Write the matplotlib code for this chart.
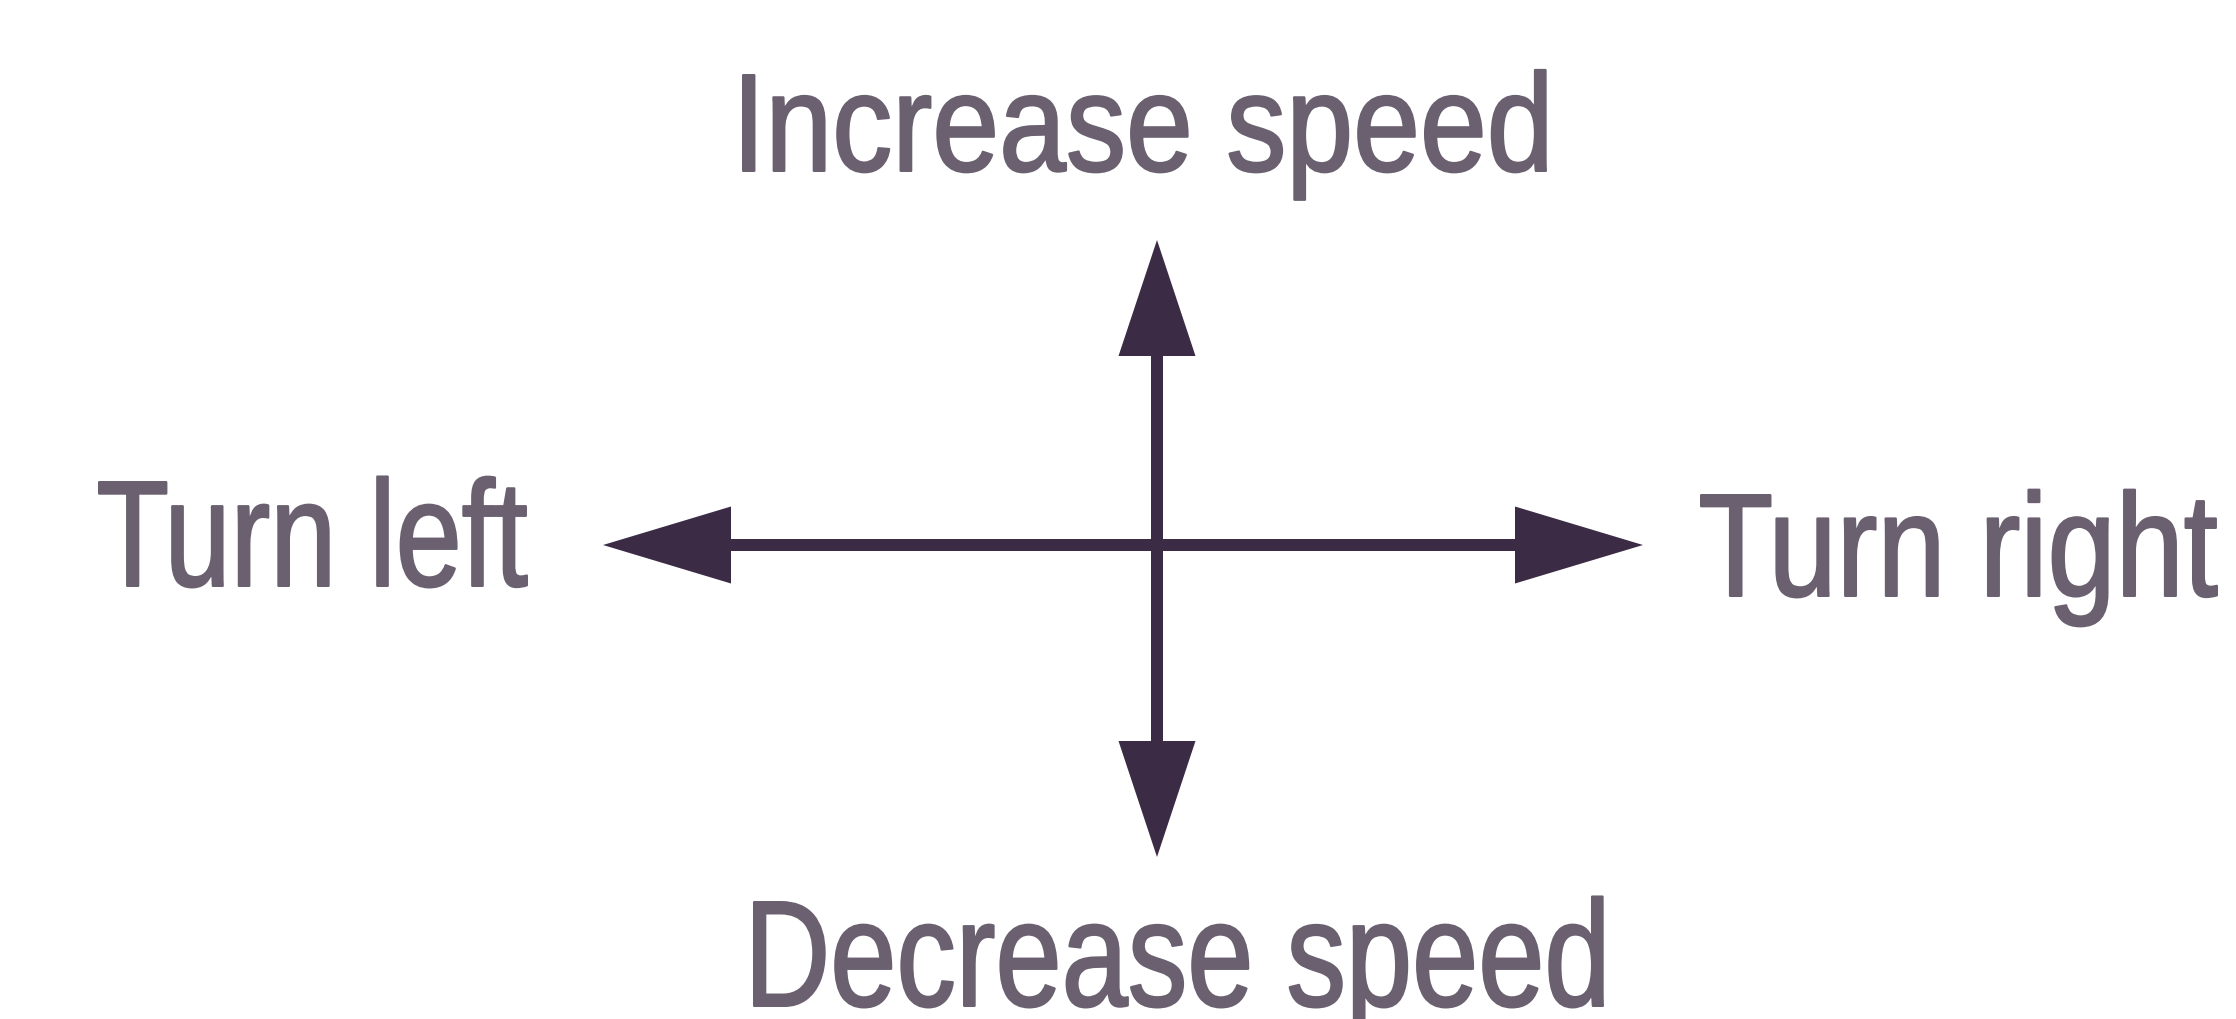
import matplotlib
matplotlib.use("Agg")
import matplotlib.pyplot as plt
from matplotlib.font_manager import FontProperties
from matplotlib.patheffects import AbstractPathEffect
from matplotlib.textpath import TextPath
from matplotlib.transforms import Affine2D

# концы стрелок (в пикселях картинки) относительно центра креста
directions = ["up", "down", "left", "right"]
tip_x = [1157, 1157, 603, 1643]
tip_y = [240, 857, 545, 545]
center = (1157, 545)

# подписи: левый и правый край букв, базовая линия, высота заглавной
labels = ["Increase speed", "Decrease speed", "Turn left", "Turn right"]
left_x = [742, 753, 98, 1700]
right_x = [1547, 1604, 528, 2218]
baseline_y = [172, 1007, 587, 597]
cap_h = [98, 106, 106, 103]

W, H = 2236, 1019
DPI = 100
PX = DPI / 72.0
STROKE = 1.6  # pt, утолщение букв


class Stretch(AbstractPathEffect):
    """Растягивает глифы по вертикали от базовой линии и слегка утолщает."""

    def __init__(self, sy, lw):
        super().__init__()
        self.sy = sy
        self.lw = lw

    def draw_path(self, renderer, gc, tpath, affine, rgbFace=None):
        tr = Affine2D().scale(1, self.sy) + affine
        gc0 = renderer.new_gc()
        gc0.copy_properties(gc)
        gc0.set_linewidth(self.lw)
        gc0.set_foreground(rgbFace)
        gc0.set_joinstyle("round")
        renderer.draw_path(gc0, tpath, tr, rgbFace)
        gc0.restore()


fig = plt.figure(figsize=(W / DPI, H / DPI), dpi=DPI)
ax = fig.add_axes([0, 0, 1, 1])
ax.set_xlim(0, W)
ax.set_ylim(H, 0)
ax.axis("off")

arrow_color = "#3b2b45"
text_color = "#6a6070"
fp = FontProperties(family=["Liberation Sans", "DejaVu Sans"])

# четыре стрелки из центра
for d, tx, ty in zip(directions, tip_x, tip_y):
    dx = tx - center[0]
    dy = ty - center[1]
    hl = 116 if d in ("up", "down") else 128
    ax.arrow(center[0], center[1], dx, dy, width=12, head_width=77,
             head_length=hl, length_includes_head=True,
             color=arrow_color, linewidth=0)

# подписи: размер по ширине, высоту добираем растяжением
pad = STROKE * PX
for txt, x0, x1, yb, ch in zip(labels, left_x, right_x, baseline_y, cap_h):
    ext = TextPath((0, 0), txt, size=1, prop=fp).get_extents()
    size = (x1 - x0 - pad) / (ext.width * PX)
    cap = TextPath((0, 0), "T", size=size, prop=fp).get_extents().height * PX
    t = ax.text(x0 + pad / 2 - ext.x0 * size * PX, yb - pad / 2, txt,
                ha="left", va="baseline", fontproperties=fp, color=text_color)
    t.set_fontsize(size)
    t.set_path_effects([Stretch((ch - pad) / cap, STROKE)])

fig.savefig("out.png", dpi=DPI)
